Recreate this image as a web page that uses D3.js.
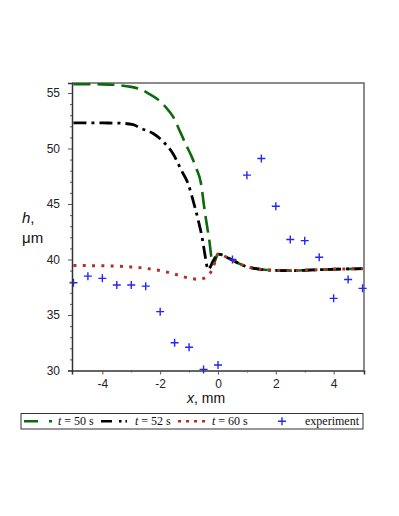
<!DOCTYPE html>
<html><head><meta charset="utf-8">
<script src="https://cdn.jsdelivr.net/npm/d3@7"></script>
<style>body{margin:0;background:#fff}svg{display:block}</style>
</head><body><svg id="c" width="399" height="516"></svg>
<script>
// ---- data ----
const expX = [-5,-4.5,-4,-3.5,-3,-2.5,-2,-1.5,-1,-0.5,0,0.5,1,1.5,2,2.5,3,3.5,4,4.5,5];
const expH = [37.9,38.5,38.3,37.7,37.7,37.6,35.3,32.5,32.1,30.1,30.5,40.0,47.6,49.1,44.8,41.8,41.7,40.2,36.5,38.2,37.4];

// common right part (all three curves coincide for x >= 0)
const tailX = [0.1,0.3,0.5,0.75,1.0,1.25,1.5,2,2.5,3,3.5,4,4.5,5];
const tailH = [40.45,40.2,39.95,39.6,39.35,39.2,39.1,39.02,39.0,39.03,39.08,39.12,39.15,39.17];

const t50X = [-5,-4,-3.5,-3,-2.7,-2.4,-2.1,-1.8,-1.55,-1.3,-1.1,-0.9,-0.75,-0.6,-0.45,-0.3,-0.18,-0.1,0];
const t50H = [55.8,55.78,55.72,55.55,55.35,54.95,54.45,53.7,52.85,51.45,50.3,49.2,48.2,47.0,44.2,41.7,39.6,39.9,40.5];

const t52X = [-5,-4,-3.4,-2.93,-2.7,-2.24,-1.89,-1.55,-1.26,-1.03,-0.85,-0.68,-0.53,-0.45,-0.34,-0.16,0];
const t52H = [52.3,52.3,52.28,52.15,51.85,51.35,50.6,49.5,48.0,46.8,45.2,43.5,41.7,40.4,39.1,39.9,40.5];

const t60X = [-5,-4.5,-4,-3.5,-3,-2.5,-2,-1.5,-1.2,-0.9,-0.7,-0.5,-0.35,-0.22,-0.1,0];
const t60H = [39.45,39.45,39.43,39.4,39.33,39.2,39.0,38.68,38.45,38.28,38.22,38.3,38.55,39.0,39.8,40.5];

const xTicks = [-4,-2,0,2,4];
const yTicks = [30,35,40,45,50,55];
const legendLabels = ["50","52","60"];

// ---- chart ----
const svg = d3.select("#c");
const L = 72, R = 364, T = 83, B = 370.5;
const x = d3.scaleLinear().domain([-5.05,5.05]).range([L,R]);
const y = d3.scaleLinear().domain([30,55.9]).range([B,T]);

svg.append("clipPath").attr("id","clip").append("rect")
  .attr("x",L).attr("y",T).attr("width",R-L).attr("height",B-T);

// frame top/right
svg.append("path").attr("d",`M${L},${T}H${R}V${B}`).attr("fill","none")
  .attr("stroke","#666").attr("stroke-width",1.5);

const series = [
  {X:t50X.concat(tailX), H:t50H.concat(tailH), color:"#0b6a0b", w:2.6, dash:"17,7"},
  {X:t52X.concat(tailX), H:t52H.concat(tailH), color:"#000", w:2.8, dash:"13,5,3,5"},
  {X:t60X.concat(tailX), H:t60H.concat(tailH), color:"#b0302a", w:3, dash:"3,6.3"}
];
const line = d3.line().x(d=>x(d[0])).y(d=>y(d[1])).curve(d3.curveMonotoneX);
const g = svg.append("g").attr("clip-path","url(#clip)");
series.forEach(s=>{
  g.append("path").datum(s.X.map((v,i)=>[v,s.H[i]]))
   .attr("d",line).attr("fill","none").attr("stroke",s.color)
   .attr("stroke-width",s.w).attr("stroke-dasharray",s.dash);
});

// experiment crosses
const plus = "M-4,0H4M0,-4V4";
svg.append("g").selectAll("path").data(expX).join("path")
  .attr("transform",(d,i)=>`translate(${x(d)},${y(expH[i])})`)
  .attr("d",plus).attr("stroke","#2424ff").attr("stroke-width",1.4).attr("fill","none");

// axes
const fmt = d=>String(d).replace("\u2212","-");
const ax = svg.append("g").attr("transform",`translate(0,${B})`)
  .call(d3.axisBottom(x).tickValues(xTicks).tickSize(4).tickPadding(5).tickFormat(fmt));
svg.append("g").attr("transform",`translate(0,${B})`)
  .call(d3.axisBottom(x).tickValues([-3,-1,1,3]).tickSize(2).tickFormat(""))
  .call(g=>g.select(".domain").remove());
const ay = svg.append("g").attr("transform",`translate(${L},0)`)
  .call(d3.axisLeft(y).tickValues(yTicks).tickSize(4).tickPadding(8));
svg.append("g").attr("transform",`translate(${L},0)`)
  .call(d3.axisLeft(y).tickValues(d3.range(31,56).filter(v=>v%5)).tickSize(2).tickFormat(""))
  .call(g=>g.select(".domain").remove());
svg.selectAll(".domain").attr("stroke","#333").attr("stroke-width",1.5);
svg.selectAll(".tick line").attr("stroke","#555");
svg.selectAll(".tick text").attr("font-family","Liberation Sans, Arial, sans-serif")
  .attr("font-size",12).attr("fill","#222");

// axis titles
const ff = "Liberation Sans, Arial, sans-serif";
const xt = svg.append("text").attr("x",206).attr("y",403).attr("text-anchor","middle")
  .attr("font-family",ff).attr("font-size",14).attr("fill","#111");
xt.append("tspan").attr("font-style","italic").text("x");
xt.append("tspan").text(", mm");
const yt = svg.append("text").attr("font-family",ff).attr("font-size",15).attr("fill","#111");
yt.append("tspan").attr("x",22).attr("y",223).attr("font-style","italic").text("h");
yt.append("tspan").text(",");
svg.append("text").attr("x",22).attr("y",243).attr("font-family",ff).attr("font-size",15)
  .attr("fill","#111").text("μm");

// legend
const lg = svg.append("g");
lg.append("rect").attr("x",21).attr("y",413.5).attr("width",342).attr("height",15.5)
  .attr("fill","#fff").attr("stroke","#333").attr("stroke-width",1);
const ly = 421.2;
const sf = "Liberation Serif, Times New Roman, serif";
const legDash = ["14,11,3,100","11,7,2.5,4,1.5,100","3,5"];
const legStart = [24, 101, 178];
legendLabels.forEach((lab,i)=>{
  const s = series[i];
  lg.append("line").attr("x1",legStart[i]).attr("x2",legStart[i]+29).attr("y1",ly).attr("y2",ly)
    .attr("stroke",s.color).attr("stroke-width",2.6).attr("stroke-dasharray",legDash[i]);
  const t = lg.append("text").attr("x",legStart[i]+34).attr("y",425).attr("font-family",sf)
    .attr("font-size",12).attr("fill","#111");
  t.append("tspan").attr("font-style","italic").text("t");
  t.append("tspan").text(" = "+lab+" s");
});
lg.append("path").attr("transform",`translate(282,${ly})`).attr("d",plus)
  .attr("stroke","#2424ff").attr("stroke-width",1.4);
lg.append("text").attr("x",359).attr("y",425).attr("text-anchor","end").attr("font-family",sf)
  .attr("font-size",12).attr("fill","#111").text("experiment");
</script></body></html>
